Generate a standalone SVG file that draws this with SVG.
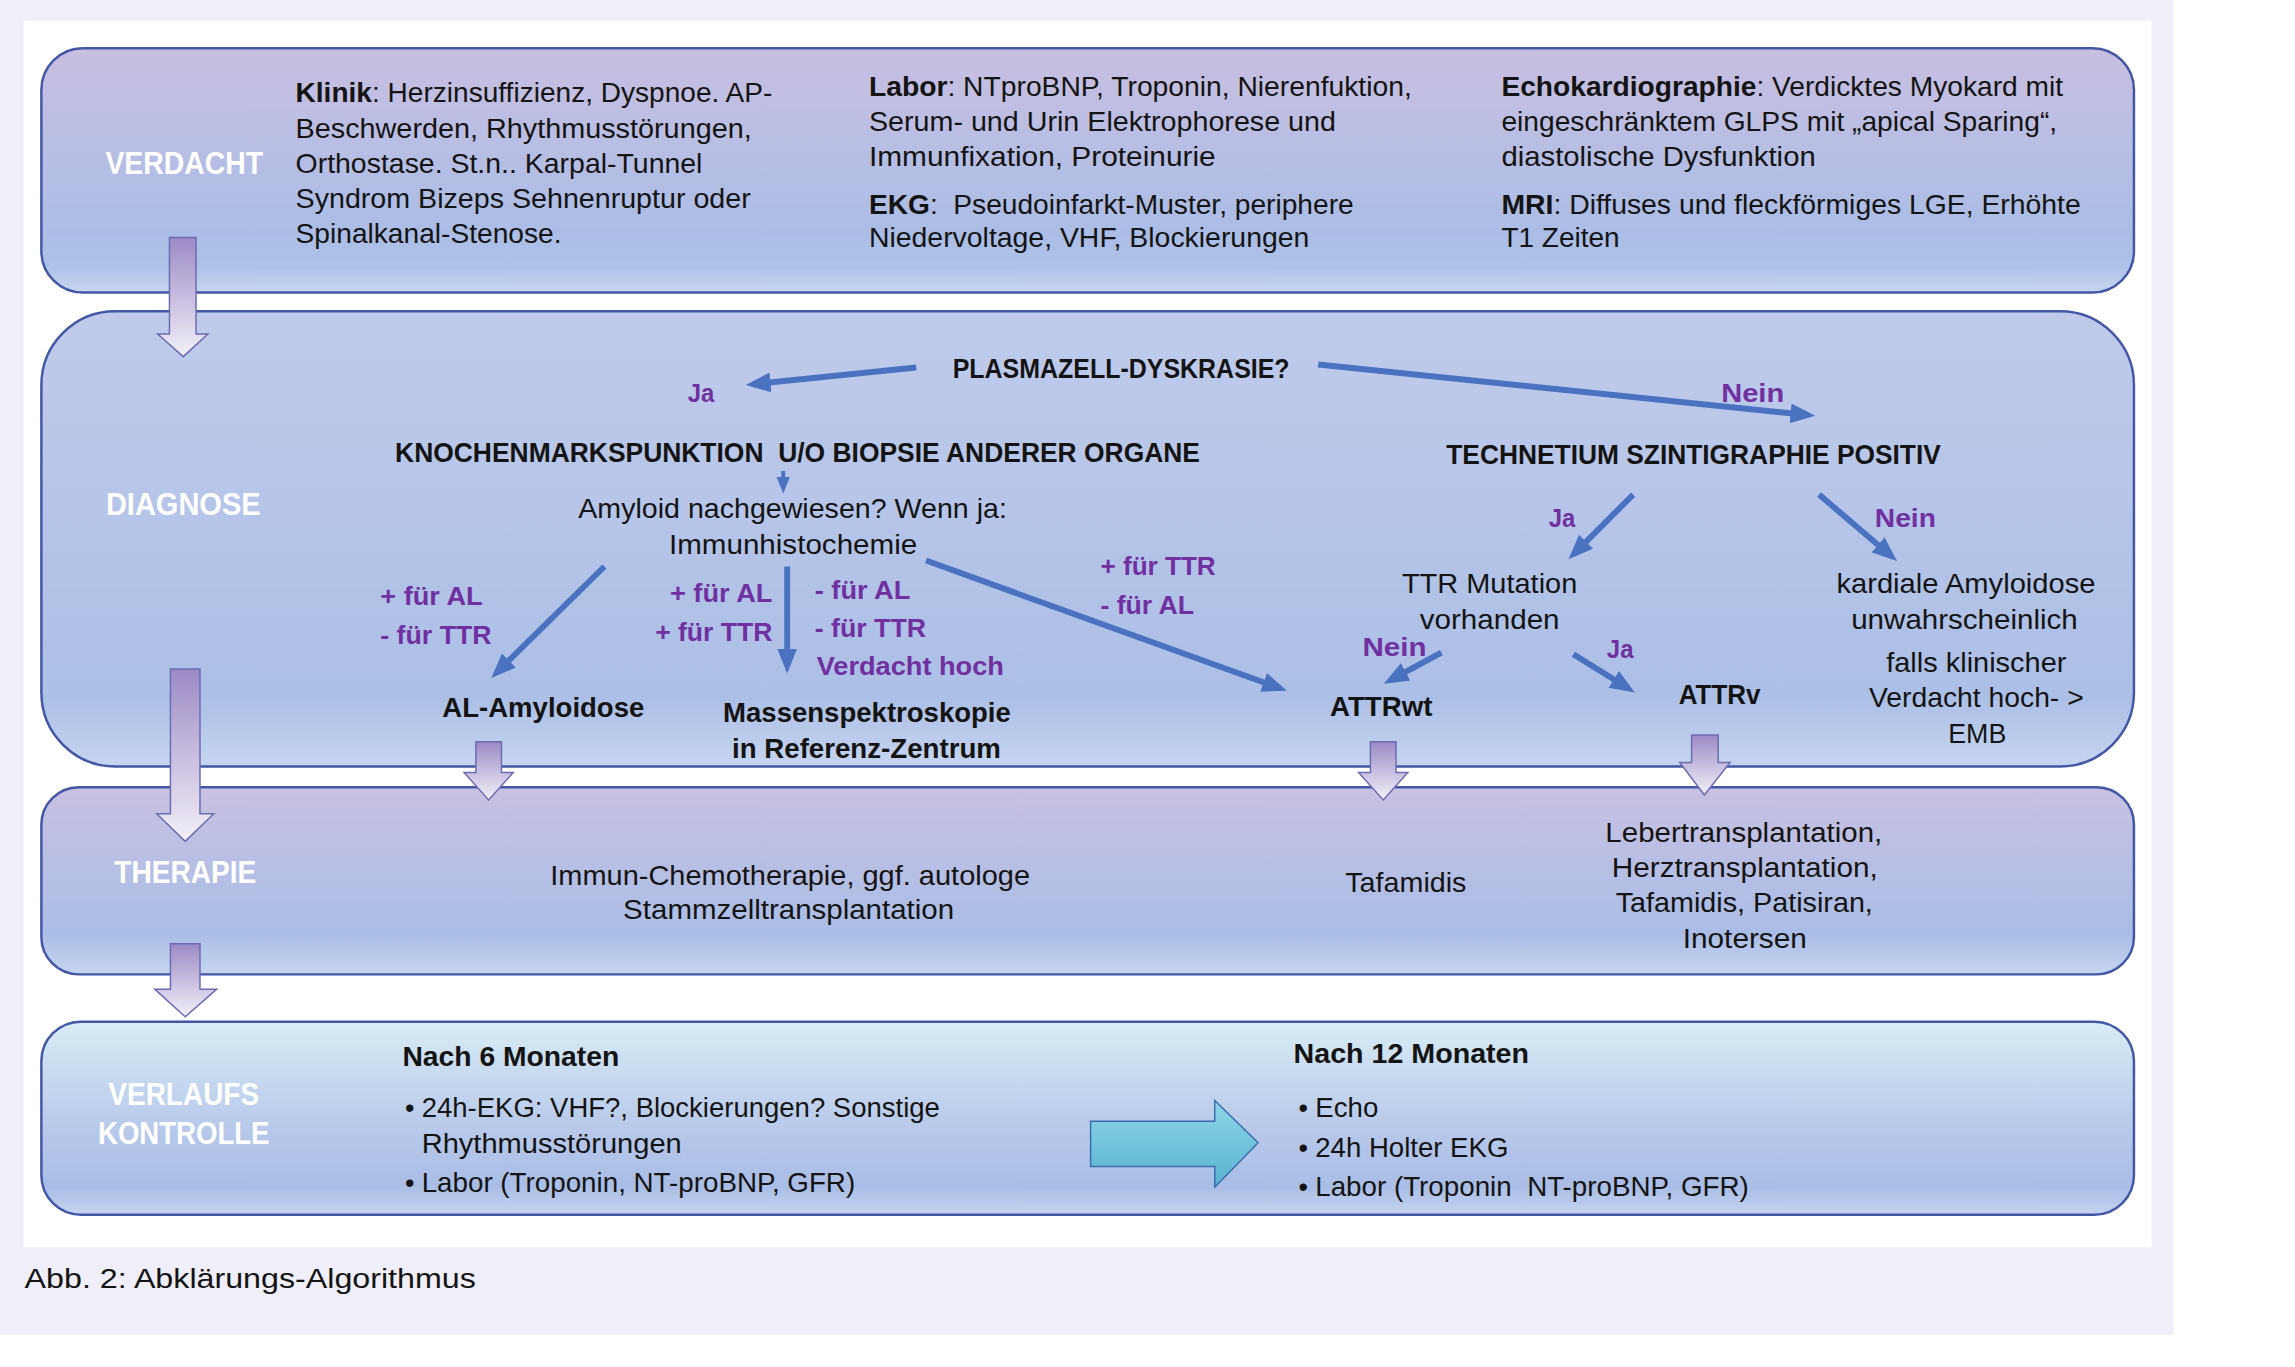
<svg xmlns="http://www.w3.org/2000/svg" width="2295" height="1367" viewBox="0 0 2295 1367">
<style>
.t{font-family:'Liberation Sans Narrow','Liberation Sans',Arial,sans-serif;font-size:27.5px;fill:#141414}
.b{font-weight:bold}
.w{fill:#ffffff;font-weight:bold;font-size:31px;text-anchor:middle}
.p{fill:#7030A0;font-weight:bold;font-size:27px}
.h{font-weight:bold;font-size:28px}
.c{text-anchor:middle}
.conn{stroke:#4A72C0;stroke-width:6;fill:none;marker-end:url(#ah)}
.thin{stroke-width:4}
.band{stroke:#4457A5;stroke-width:2.5}
.blk{stroke:#6B6DB0;stroke-width:1.5;fill:url(#gA)}
</style>
<defs>
<linearGradient id="gV" x1="0" y1="0" x2="0" y2="1">
<stop offset="0" stop-color="#C8BFE1"/><stop offset="0.75" stop-color="#ABBDE6"/><stop offset="0.9" stop-color="#AEC2E8"/><stop offset="1" stop-color="#C8D6F0"/>
</linearGradient>
<linearGradient id="gD" x1="0" y1="0" x2="0" y2="1">
<stop offset="0" stop-color="#C0CBEB"/><stop offset="0.85" stop-color="#ACBFE6"/><stop offset="1" stop-color="#C6D5F0"/>
</linearGradient>
<linearGradient id="gT" x1="0" y1="0" x2="0" y2="1">
<stop offset="0" stop-color="#C8C1E2"/><stop offset="0.78" stop-color="#AABDE6"/><stop offset="1" stop-color="#C6D5F0"/>
</linearGradient>
<linearGradient id="gK" x1="0" y1="0" x2="0" y2="1">
<stop offset="0" stop-color="#D8ECF5"/><stop offset="0.55" stop-color="#B8C9EA"/><stop offset="0.85" stop-color="#A9BDE6"/><stop offset="1" stop-color="#C4D4F0"/>
</linearGradient>
<linearGradient id="gA" x1="0" y1="0" x2="0" y2="1">
<stop offset="0" stop-color="#9C8AC5"/><stop offset="1" stop-color="#F3F0F9"/>
</linearGradient>
<linearGradient id="gR" x1="0" y1="0" x2="0" y2="1">
<stop offset="0" stop-color="#8ED6E6"/><stop offset="1" stop-color="#58B2D2"/>
</linearGradient>
<marker id="ah" viewBox="0 0 10 8" refX="7" refY="4" markerWidth="4.2" markerHeight="3.6" orient="auto" markerUnits="strokeWidth">
<path d="M0,0 L10,4 L0,8 z" fill="#4A72C0"/>
</marker>
</defs>

<rect x="0" y="0" width="2295" height="1367" fill="#ffffff"/>
<g transform="scale(0.9852)">
<rect x="0" y="0" width="2206" height="1355" fill="#F0EEF8"/>
<rect x="24" y="21" width="2160" height="1245" fill="#ffffff"/>

<g id="verdacht">
<rect class="band" x="42" y="49" width="2124" height="248" rx="42" fill="url(#gV)"/>
<text class="t w" x="187" y="177" textLength="160" lengthAdjust="spacingAndGlyphs">VERDACHT</text>
<text class="t" x="300" y="104" textLength="484" lengthAdjust="spacingAndGlyphs"><tspan class="b">Klinik</tspan>: Herzinsuffizienz, Dyspnoe. AP-</text>
<text class="t" x="300" y="140" textLength="463" lengthAdjust="spacingAndGlyphs">Beschwerden, Rhythmusstörungen,</text>
<text class="t" x="300" y="176" textLength="413" lengthAdjust="spacingAndGlyphs">Orthostase. St.n.. Karpal-Tunnel</text>
<text class="t" x="300" y="211" textLength="462" lengthAdjust="spacingAndGlyphs">Syndrom Bizeps Sehnenruptur oder</text>
<text class="t" x="300" y="247" textLength="270" lengthAdjust="spacingAndGlyphs">Spinalkanal-Stenose.</text>
<text class="t" x="882" y="97" textLength="551" lengthAdjust="spacingAndGlyphs"><tspan class="b">Labor</tspan>: NTproBNP, Troponin, Nierenfuktion,</text>
<text class="t" x="882" y="133" textLength="474" lengthAdjust="spacingAndGlyphs">Serum- und Urin Elektrophorese und</text>
<text class="t" x="882" y="168" textLength="352" lengthAdjust="spacingAndGlyphs">Immunfixation, Proteinurie</text>
<text class="t" x="882" y="217" textLength="492" lengthAdjust="spacingAndGlyphs"><tspan class="b">EKG</tspan>:&#160; Pseudoinfarkt-Muster, periphere</text>
<text class="t" x="882" y="251" textLength="447" lengthAdjust="spacingAndGlyphs">Niedervoltage, VHF, Blockierungen</text>
<text class="t" x="1524" y="97" textLength="570" lengthAdjust="spacingAndGlyphs"><tspan class="b">Echokardiographie</tspan>: Verdicktes Myokard mit</text>
<text class="t" x="1524" y="133" textLength="564" lengthAdjust="spacingAndGlyphs">eingeschränktem GLPS mit „apical Sparing“,</text>
<text class="t" x="1524" y="168" textLength="319" lengthAdjust="spacingAndGlyphs">diastolische Dysfunktion</text>
<text class="t" x="1524" y="217" textLength="588" lengthAdjust="spacingAndGlyphs"><tspan class="b">MRI</tspan>: Diffuses und fleckförmiges LGE, Erhöhte</text>
<text class="t" x="1524" y="251" textLength="120" lengthAdjust="spacingAndGlyphs">T1 Zeiten</text>
</g>

<g id="diagnose">
<rect class="band" x="42" y="316" width="2124" height="462" rx="75" fill="url(#gD)"/>
<text class="t w" x="186" y="523" textLength="157" lengthAdjust="spacingAndGlyphs">DIAGNOSE</text>
</g>

<g id="therapie">
<rect class="band" x="42" y="799" width="2124" height="190" rx="38" fill="url(#gT)"/>
<text class="t w" x="188" y="896" textLength="144" lengthAdjust="spacingAndGlyphs">THERAPIE</text>
</g>

<g id="verlauf">
<rect class="band" x="42" y="1037" width="2124" height="196" rx="40" fill="url(#gK)"/>
<text class="t w" x="186.5" y="1122" textLength="153" lengthAdjust="spacingAndGlyphs">VERLAUFS</text>
<text class="t w" x="186.5" y="1161" textLength="174" lengthAdjust="spacingAndGlyphs">KONTROLLE</text>
</g>

<g id="n-plasmazell"><text class="t h" x="967" y="384" textLength="342" lengthAdjust="spacingAndGlyphs">PLASMAZELL-DYSKRASIE?</text></g>
<g id="n-knochenmark"><text class="t h" x="401" y="469" textLength="817" lengthAdjust="spacingAndGlyphs">KNOCHENMARKSPUNKTION&#160; U/O BIOPSIE ANDERER ORGANE</text></g>
<g id="n-amyloid">
<text class="t c" x="804.5" y="526" textLength="435" lengthAdjust="spacingAndGlyphs">Amyloid nachgewiesen? Wenn ja:</text>
<text class="t c" x="805" y="562" textLength="252" lengthAdjust="spacingAndGlyphs">Immunhistochemie</text>
</g>
<g id="n-technetium"><text class="t h" x="1468" y="471" textLength="502" lengthAdjust="spacingAndGlyphs">TECHNETIUM SZINTIGRAPHIE POSITIV</text></g>
<g id="n-ttr">
<text class="t c" x="1512" y="602" textLength="178" lengthAdjust="spacingAndGlyphs">TTR Mutation</text>
<text class="t c" x="1512" y="638" textLength="142" lengthAdjust="spacingAndGlyphs">vorhanden</text>
</g>
<g id="n-kardial">
<text class="t c" x="1995.5" y="602" textLength="263" lengthAdjust="spacingAndGlyphs">kardiale Amyloidose</text>
<text class="t c" x="1994" y="638" textLength="230" lengthAdjust="spacingAndGlyphs">unwahrscheinlich</text>
<text class="t c" x="2006" y="682" textLength="183" lengthAdjust="spacingAndGlyphs">falls klinischer</text>
<text class="t c" x="2006" y="718" textLength="218" lengthAdjust="spacingAndGlyphs">Verdacht hoch- &gt;</text>
<text class="t c" x="2007" y="754" textLength="59" lengthAdjust="spacingAndGlyphs">EMB</text>
</g>
<g id="n-attrwt"><text class="t b" x="1350" y="727" textLength="104" lengthAdjust="spacingAndGlyphs">ATTRwt</text></g>
<g id="n-attrv"><text class="t b" x="1704" y="715" textLength="83" lengthAdjust="spacingAndGlyphs">ATTRv</text></g>
<g id="n-al"><text class="t b" x="449" y="728" textLength="205" lengthAdjust="spacingAndGlyphs">AL-Amyloidose</text></g>
<g id="n-massen">
<text class="t b c" x="880" y="733" textLength="292" lengthAdjust="spacingAndGlyphs">Massenspektroskopie</text>
<text class="t b c" x="879.5" y="769" textLength="273" lengthAdjust="spacingAndGlyphs">in Referenz-Zentrum</text>
</g>
<g id="n-chemo">
<text class="t c" x="802" y="898" textLength="487" lengthAdjust="spacingAndGlyphs">Immun-Chemotherapie, ggf. autologe</text>
<text class="t c" x="800.5" y="933" textLength="336" lengthAdjust="spacingAndGlyphs">Stammzelltransplantation</text>
</g>
<g id="n-tafamidis"><text class="t c" x="1427" y="905" textLength="123" lengthAdjust="spacingAndGlyphs">Tafamidis</text></g>
<g id="n-leber">
<text class="t c" x="1770" y="855" textLength="281" lengthAdjust="spacingAndGlyphs">Lebertransplantation,</text>
<text class="t c" x="1771" y="890" textLength="270" lengthAdjust="spacingAndGlyphs">Herztransplantation,</text>
<text class="t c" x="1770.5" y="926" textLength="261" lengthAdjust="spacingAndGlyphs">Tafamidis, Patisiran,</text>
<text class="t c" x="1771" y="962" textLength="126" lengthAdjust="spacingAndGlyphs">Inotersen</text>
</g>
<g id="n-6monate">
<text class="t b" x="408.5" y="1082" textLength="220" lengthAdjust="spacingAndGlyphs">Nach 6 Monaten</text>
<text class="t" x="411" y="1134">•</text>
<text class="t" x="428" y="1134" textLength="526" lengthAdjust="spacingAndGlyphs">24h-EKG: VHF?, Blockierungen? Sonstige</text>
<text class="t" x="428" y="1170" textLength="264" lengthAdjust="spacingAndGlyphs">Rhythmusstörungen</text>
<text class="t" x="411" y="1210">•</text>
<text class="t" x="428" y="1210" textLength="440" lengthAdjust="spacingAndGlyphs">Labor (Troponin, NT-proBNP, GFR)</text>
</g>
<g id="n-12monate">
<text class="t b" x="1313" y="1079" textLength="239" lengthAdjust="spacingAndGlyphs">Nach 12 Monaten</text>
<text class="t" x="1318" y="1134">•</text>
<text class="t" x="1335" y="1134" textLength="64" lengthAdjust="spacingAndGlyphs">Echo</text>
<text class="t" x="1318" y="1174">•</text>
<text class="t" x="1335" y="1174" textLength="196" lengthAdjust="spacingAndGlyphs">24h Holter EKG</text>
<text class="t" x="1318" y="1214">•</text>
<text class="t" x="1335" y="1214" textLength="440" lengthAdjust="spacingAndGlyphs">Labor (Troponin&#160; NT-proBNP, GFR)</text>
</g>

<g id="connectors">
<polygon class="blk" points="172,241 199,241 199,339 211,339 186,362 160,339 172,339"/>
<polygon class="blk" points="173,679 203,679 203,826 217,826 188,854 159,826 173,826"/>
<polygon class="blk" points="483,753 509,753 509,784 521,784 496,812 471,784 483,784"/>
<polygon class="blk" points="1391,753 1417,753 1417,784 1429,784 1404,812 1379,784 1391,784"/>
<polygon class="blk" points="1717,746 1744,746 1744,774 1756,774 1730,807 1705,774 1717,774"/>
<polygon class="blk" points="173,958 203,958 203,1004 220,1004 188,1032 157,1004 173,1004"/>
<polygon points="1107,1138 1233,1138 1233,1117 1277,1160 1233,1205 1233,1184 1107,1184" fill="url(#gR)" stroke="#3D6DB0" stroke-width="1.5"/>
<line class="conn" x1="930" y1="373" x2="764.5" y2="390"/>
<line class="conn" x1="1338" y1="370" x2="1835" y2="421.3"/>
<line class="conn thin" x1="795" y1="478" x2="795" y2="496"/>
<line class="conn" x1="1657.7" y1="502" x2="1597.4" y2="562.4"/>
<line class="conn" x1="1846.4" y1="502" x2="1919.7" y2="564.5"/>
<line class="conn" x1="1463" y1="662.5" x2="1411.2" y2="690.4"/>
<line class="conn" x1="1597" y1="664" x2="1653" y2="698.9"/>
<line class="conn" x1="613.5" y1="575" x2="504" y2="682.8"/>
<line class="conn" x1="799" y1="575" x2="799" y2="676"/>
<line class="conn" x1="940" y1="569" x2="1299.1" y2="698.6"/>
<text class="t p" x="698" y="408" textLength="27" lengthAdjust="spacingAndGlyphs">Ja</text>
<text class="t p" x="1747" y="408" textLength="64" lengthAdjust="spacingAndGlyphs">Nein</text>
<text class="t p" x="1572" y="535" textLength="27" lengthAdjust="spacingAndGlyphs">Ja</text>
<text class="t p" x="1903" y="535" textLength="62" lengthAdjust="spacingAndGlyphs">Nein</text>
<text class="t p" x="1383" y="666" textLength="65" lengthAdjust="spacingAndGlyphs">Nein</text>
<text class="t p" x="1631" y="668" textLength="27" lengthAdjust="spacingAndGlyphs">Ja</text>
<text class="t p" x="386" y="614" textLength="104" lengthAdjust="spacingAndGlyphs">+ für AL</text>
<text class="t p" x="386" y="654" textLength="113" lengthAdjust="spacingAndGlyphs">- für TTR</text>
<text class="t p" x="680" y="611" textLength="104" lengthAdjust="spacingAndGlyphs">+ für AL</text>
<text class="t p" x="665" y="651" textLength="119" lengthAdjust="spacingAndGlyphs">+ für TTR</text>
<text class="t p" x="827" y="608" textLength="97" lengthAdjust="spacingAndGlyphs">- für AL</text>
<text class="t p" x="827" y="647" textLength="113" lengthAdjust="spacingAndGlyphs">- für TTR</text>
<text class="t p" x="829" y="685" textLength="190" lengthAdjust="spacingAndGlyphs">Verdacht hoch</text>
<text class="t p" x="1117" y="584" textLength="117" lengthAdjust="spacingAndGlyphs">+ für TTR</text>
<text class="t p" x="1117" y="623" textLength="95" lengthAdjust="spacingAndGlyphs">- für AL</text>
</g>

<text class="t" x="25" y="1307" font-size="31" textLength="458" lengthAdjust="spacingAndGlyphs">Abb. 2: Abklärungs-Algorithmus</text>
</g>
</svg>
